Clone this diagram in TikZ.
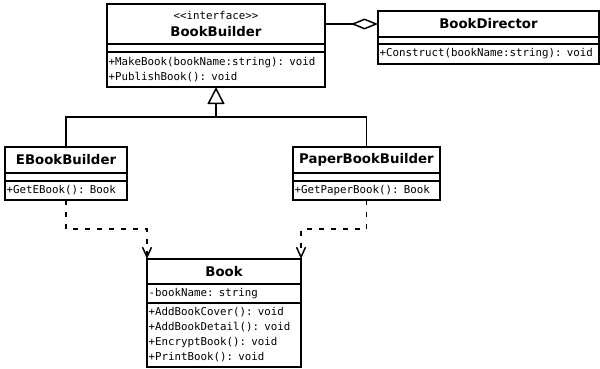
\documentclass[tikz,border=0pt]{standalone}
\usepackage{fontspec}
\setmainfont{DejaVu Sans}
\setmonofont{DejaVu Sans Mono}
\usetikzlibrary{positioning,arrows.meta}
\begin{document}
\begin{tikzpicture}[x=1pt, y=-1pt,
    head/.style={draw, line width=1.7pt, outer sep=0pt, inner sep=1pt, align=center,
      font=\bfseries\fontsize{13.3}{16}\selectfont},
    part/.style={draw, line width=1.7pt, outer sep=0pt, inner xsep=1.5pt, inner ysep=0pt,
      align=left, font=\ttfamily\fontsize{10.8}{15}\selectfont},
    link/.style={line width=1.5pt},
    dep/.style={line width=1.5pt, dash pattern=on 5pt off 7pt,
      -{Straight Barb[length=10pt, width=9pt]}}]
  \useasboundingbox (0,0) rectangle (600,369);
  % interface
  \node[head, minimum width=218pt, minimum height=40pt] (bbT) at (216,24)
    {{\mdseries\ttfamily\fontsize{10.8}{12}\selectfont <{}<interface>{}>}\\[1pt]BookBuilder};
  \node[part, text width=215pt, minimum height=8pt, below=0pt of bbT] (bbA) {};
  \node[part, text width=215pt, minimum height=35pt, below=0pt of bbA] (bbM)
    {+MakeBook(bookName:string): void\\+PublishBook(): void};
  % director
  \node[head, minimum width=221pt, minimum height=26pt] (bdT) at (488.5,24) {BookDirector};
  \node[part, text width=218pt, minimum height=7pt, below=0pt of bdT] (bdA) {};
  \node[part, text width=218pt, minimum height=20pt, below=0pt of bdA] (bdM)
    {+Construct(bookName:string): void};
  % builders
  \node[head, minimum width=122pt, minimum height=26pt] (ebT) at (66,160) {EBookBuilder};
  \node[part, text width=119pt, minimum height=8pt, below=0pt of ebT] (ebA) {};
  \node[part, text width=119pt, minimum height=19pt, below=0pt of ebA] (ebM)
    {+GetEBook(): Book};
  \node[head, minimum width=147pt, minimum height=26pt] (pbT) at (366.5,160) {PaperBookBuilder};
  \node[part, text width=144pt, minimum height=8pt, below=0pt of pbT] (pbA) {};
  \node[part, text width=144pt, minimum height=19pt, below=0pt of pbA] (pbM)
    {+GetPaperBook(): Book};
  % product
  \node[head, minimum width=154pt, minimum height=25pt] (bkT) at (224,271.5) {Book};
  \node[part, text width=151pt, minimum height=19pt, below=0pt of bkT] (bkA)
    {-bookName: string};
  \node[part, text width=151pt, minimum height=64pt, below=0pt of bkA] (bkM)
    {+AddBookCover(): void\\+AddBookDetail(): void\\+EncryptBook(): void\\+PrintBook(): void};
  % relations
  \draw[link, {Diamond[open, length=27pt, width=11pt]}-] (bdT.west) -- (bbT.east);
  \draw[link] (ebT.north) |- ([yshift=-30pt]bbM.south) -| (pbT.north);
  \draw[link, -{Triangle[open, length=17pt, width=17pt]}] ([yshift=-30pt]bbM.south) -- (bbM.south);
  \draw[dep] (ebM.south) -- ++(0,29) -| (bkT.north west);
  \draw[dep] (pbM.south) -- ++(0,29) -| (bkT.north east);
\end{tikzpicture}
\end{document}
